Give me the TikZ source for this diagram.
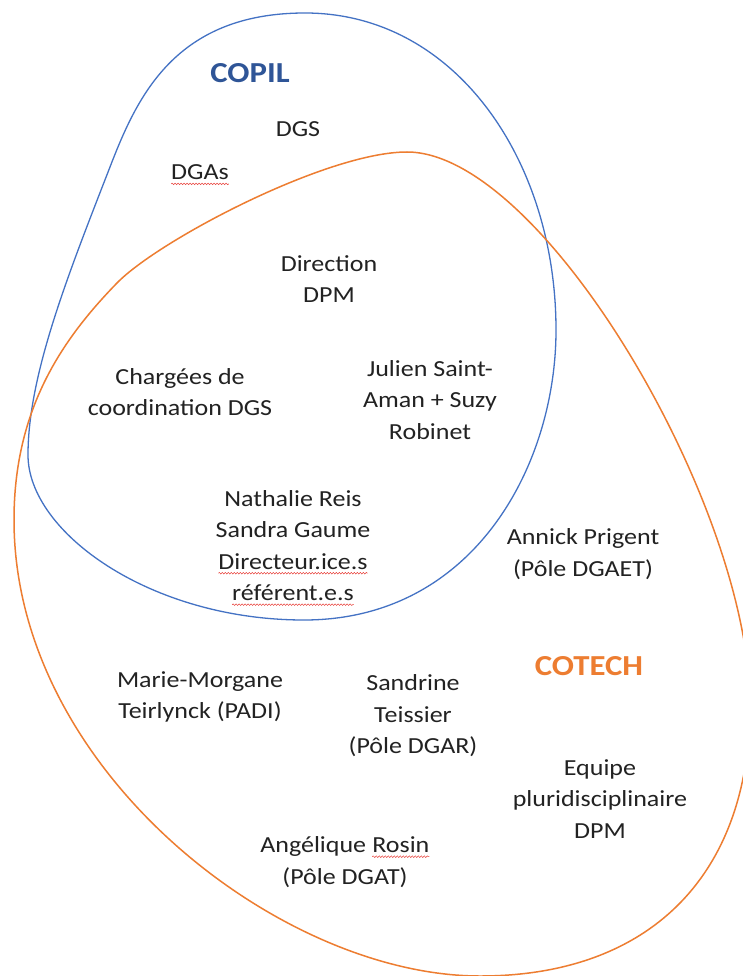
\documentclass[tikz,border=0pt]{standalone}
\usepackage{fontspec}
\setmainfont[FakeStretch=1.13]{Carlito}
\usetikzlibrary{decorations.pathmorphing}
\definecolor{copilline}{HTML}{4472C4}
\definecolor{copiltext}{HTML}{2F5597}
\definecolor{cotechcol}{HTML}{ED7D31}
\definecolor{wavered}{HTML}{E8403A}
\definecolor{textcol}{HTML}{222222}
\newcommand\lbfont{\fontsize{23}{31.5}\selectfont}
\newcommand\ttlfont{\fontsize{29}{34}\selectfont\bfseries}
\tikzset{
  lbl/.style={font=\lbfont, align=center, inner sep=0pt, text=textcol},
  ttl/.style={font=\ttlfont, inner sep=0pt},
  wavy/.style={draw=wavered, line width=0.5pt, decorate,
    decoration={snake, amplitude=0.8pt, segment length=3pt}},
  copilset/.style={draw=copilline, line width=1.3pt},
  cotechset/.style={draw=cotechcol, line width=1.5pt}
}
\newcommand\wv[1]{\tikz[baseline=(wvx.base)]{\node[inner sep=0pt,outer sep=0pt,anchor=base](wvx){#1};\draw[wavy]([yshift=-4pt]wvx.base west)--([yshift=-4pt]wvx.base east);}}
\begin{document}
\begin{tikzpicture}[x=1pt,y=-1pt]
\useasboundingbox (0,0) rectangle (743,976);
\fill[white] (0,0) rectangle (743,976);
\begin{scope}
\clip (0,0) rectangle (743,976);
\draw[copilset] (305,13) .. controls (455,13) and (556,160) .. (556,330)
  .. controls (556,465) and (474,620) .. (304,620)
  .. controls (150,620) and (28,532) .. (28,455)
  .. controls (28,375) and (68,275) .. (110,167)
  .. controls (137,97) and (175,13) .. (305,13) -- cycle;
\draw[cotechset] (407,152) .. controls (542,152) and (750,505) .. (750,705)
  .. controls (750,875) and (650,976) .. (480,976)
  .. controls (280,976) and (14,770) .. (14,520)
  .. controls (14,410) and (61.2,340.3) .. (117,283)
  .. controls (158.9,240) and (327,152) .. (407,152) -- cycle;
\end{scope}
\node[ttl, text=copiltext] (copil) at (250,73) {COPIL};
\node[lbl] (dgs) at (298,129) {DGS};
\node[lbl] (dgas) at (200,175) {\wv{DGAs}};
\node[lbl] (dir) at (329,279) {Direction\\DPM};
\node[lbl] (charg) at (180,392) {Chargées de\\coordination DGS};
\node[lbl] (julien) at (430,400) {Julien Saint-\\Aman + Suzy\\Robinet};
\node[lbl] (nath) at (293,548) {Nathalie Reis\\Sandra Gaume\\\wv{Directeur.ice.s}\\\wv{référent.e.s}};
\node[lbl] (annick) at (583,554) {Annick Prigent\\(Pôle DGAET)};
\node[ttl, text=cotechcol] (cotech) at (589,666) {COTECH};
\node[lbl] (marie) at (200,697) {Marie-Morgane\\Teirlynck (PADI)};
\node[lbl] (sandrine) at (413,716) {Sandrine\\Teissier\\(Pôle DGAR)};
\node[lbl] (equipe) at (600,799) {Equipe\\pluridisciplinaire\\DPM};
\node[lbl] (ang) at (345,862) {Angélique \wv{Rosin}\\(Pôle DGAT)};
\end{tikzpicture}
\end{document}
